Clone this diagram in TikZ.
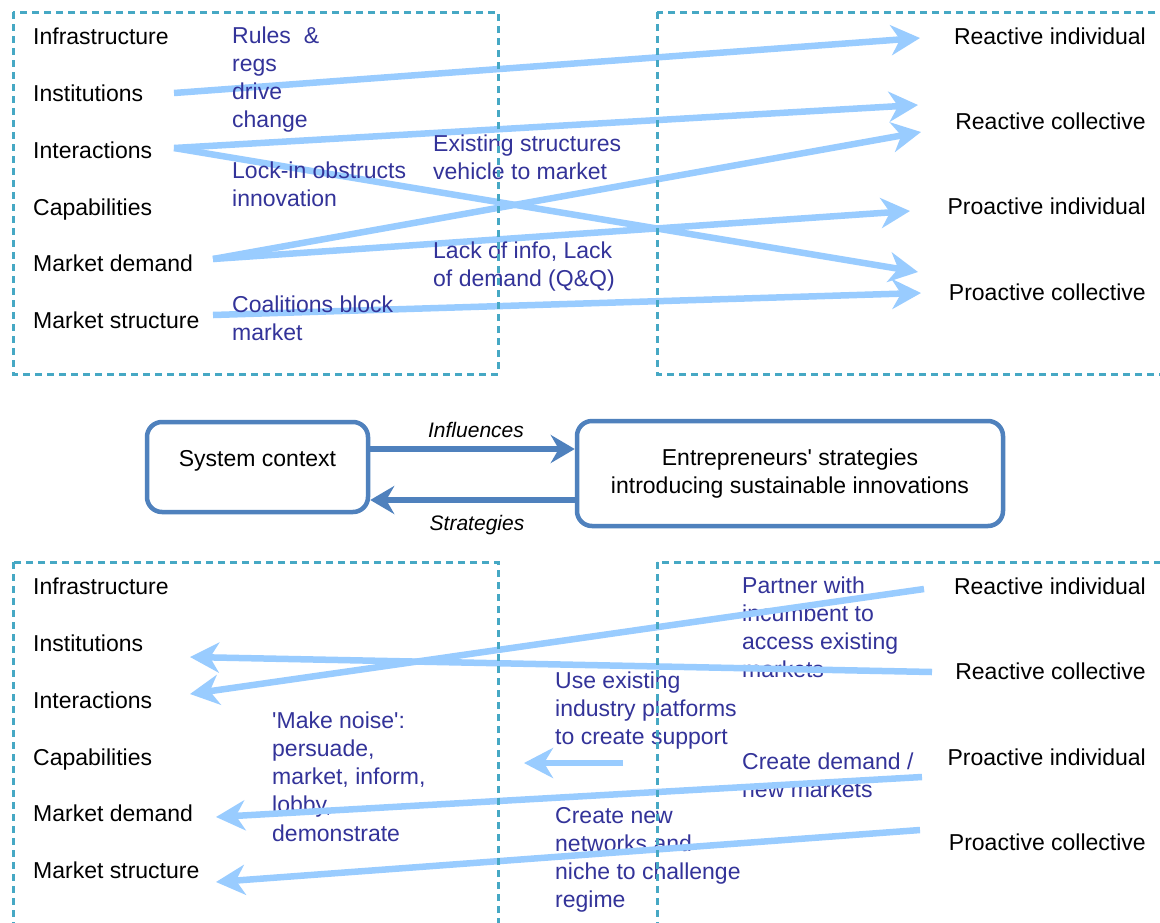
\documentclass[tikz,border=0pt]{standalone}
\usepackage{fontspec}
\setmainfont{Liberation Sans}
\usetikzlibrary{arrows.meta}
\definecolor{arrowblue}{RGB}{153,204,255}
\definecolor{dashteal}{RGB}{70,168,196}
\definecolor{boxblue}{RGB}{79,129,189}
\definecolor{notenavy}{RGB}{51,51,153}
\newcommand{\mlines}[1]{\begin{tabular}[t]{@{}l@{}}#1\end{tabular}}
\begin{document}
\begin{tikzpicture}[x=1pt,y=-1pt,
  lab/.style={font=\fontsize{23}{28.3}\selectfont, inner sep=0pt, text=black},
  note/.style={font=\fontsize{23}{28.3}\selectfont, inner sep=0pt, text=notenavy, anchor=base west},
  frame/.style={draw=dashteal, line width=3pt, dash pattern=on 7pt off 5pt},
  flow/.style={draw=arrowblue, line width=6.5pt, -{Stealth[length=29pt,width=30pt,inset=9pt]}},
  ctxbox/.style={draw=boxblue, line width=4.5pt, rounded corners=15pt, inner sep=0pt, fill=white},
  link/.style={draw=boxblue, line width=6pt, -{Stealth[length=24pt,width=28pt,inset=8pt]}},
  tag/.style={font=\itshape\fontsize{21}{25}\selectfont, inner sep=0pt, anchor=base}
]
\useasboundingbox (0,0) rectangle (1160,922);
\clip (0,0) rectangle (1160,922);
\fill[white] (0,0) rectangle (1160,922);

% ---------- top section: labels ----------
\node[lab, anchor=base west] (tInfra) at (33,44) {Infrastructure};
\node[lab, anchor=base west] (tInst)  at (33,101) {Institutions};
\node[lab, anchor=base west] (tInter) at (33,158) {Interactions};
\node[lab, anchor=base west] (tCap)   at (33,215) {Capabilities};
\node[lab, anchor=base west] (tDem)   at (33,271) {Market demand};
\node[lab, anchor=base west] (tStr)   at (33,328) {Market structure};

\node[lab, anchor=base east] (tRI) at (1146,44)  {Reactive individual};
\node[lab, anchor=base east] (tRC) at (1146,129) {Reactive collective};
\node[lab, anchor=base east] (tPI) at (1146,214) {Proactive individual};
\node[lab, anchor=base east] (tPC) at (1146,300) {Proactive collective};

% top arrow end points
\coordinate (sInst) at (174,93);
\coordinate (sInter) at (174,148);
\coordinate (sDem) at (213,259);
\coordinate (sStr) at (213,315);
\coordinate (eRI) at (920,38);
\coordinate (eRCa) at (918,105);
\coordinate (eRCb) at (921,132);
\coordinate (ePI) at (910,211);
\coordinate (ePCa) at (918,272);
\coordinate (ePCb) at (921,293);

\draw[flow] (sInst) -- (eRI);
\draw[flow] (sInter) -- (eRCa);
\draw[flow] (sInter) -- (ePCa);
\draw[flow] (sDem) -- (eRCb);
\draw[flow] (sDem) -- (ePI);
\draw[flow] (sStr) -- (ePCb);

\node[note] (nRules) at (232,43) {\mlines{Rules\ \ \&\\regs\\drive\\change}};
\node[note] (nLock)  at (232,178) {\mlines{Lock-in obstructs\\innovation}};
\node[note] (nExist) at (433,151) {\mlines{Existing structures\\vehicle to market}};
\node[note] (nLack)  at (433,258) {\mlines{Lack of info, Lack\\of demand (Q\&Q)}};
\node[note] (nCoal)  at (232,312) {\mlines{Coalitions block\\market}};

% ---------- middle ----------
\node[ctxbox, lab, minimum width=221pt, minimum height=90pt, text height=16pt, text depth=18pt] (sys) at (257.5,467) {System context};
\node[ctxbox, lab, minimum width=426pt, minimum height=105pt, align=center] (ent) at (790,473.5)
  {Entrepreneurs\textquotesingle{} strategies\\introducing sustainable innovations};
\draw[link] (sys.east |- {(0,449)}) -- (ent.west |- {(0,449)});
\draw[link] (ent.west |- {(0,500)}) -- (sys.east |- {(0,500)});
\node[tag] (infl) at (476,437) {Influences};
\node[tag] (strat) at (477,530) {Strategies};

% ---------- bottom section ----------
\node[lab, anchor=base west] (bInfra) at (33,594) {Infrastructure};
\node[lab, anchor=base west] (bInst)  at (33,651) {Institutions};
\node[lab, anchor=base west] (bInter) at (33,708) {Interactions};
\node[lab, anchor=base west] (bCap)   at (33,765) {Capabilities};
\node[lab, anchor=base west] (bDem)   at (33,821) {Market demand};
\node[lab, anchor=base west] (bStr)   at (33,878) {Market structure};

\node[lab, anchor=base east] (bRI) at (1146,594) {Reactive individual};
\node[lab, anchor=base east] (bRC) at (1146,679) {Reactive collective};
\node[lab, anchor=base east] (bPI) at (1146,765) {Proactive individual};
\node[lab, anchor=base east] (bPC) at (1146,850) {Proactive collective};

\node[note] (nPart)  at (742,593) {\mlines{Partner with\\incumbent to\\access existing\\markets}};
\node[note] (nUse)   at (555,688) {\mlines{Use existing\\industry platforms\\to create support}};
\node[note] (nNoise) at (272,728) {\mlines{\textquotesingle Make noise\textquotesingle:\\persuade,\\market, inform,\\lobby,\\demonstrate}};
\node[note] (nCdem)  at (742,769) {\mlines{Create demand /\\new markets}};
\node[note] (nCnew)  at (555,823) {\mlines{Create new\\networks and\\niche to challenge\\regime}};

\coordinate (fRI) at (924,589);
\coordinate (fRC) at (932,672);
\coordinate (fUse) at (623,763);
\coordinate (fPI) at (922,777);
\coordinate (fPC) at (920,830);
\coordinate (gInter) at (190,694);
\coordinate (gInst) at (190,657);
\coordinate (gUse) at (524,763);
\coordinate (gDem) at (216,817);
\coordinate (gStr) at (216,882);

\draw[flow] (fRI) -- (gInter);
\draw[flow] (fRC) -- (gInst);
\draw[flow] (fUse) -- (gUse);
\draw[flow] (fPI) -- (gDem);
\draw[flow] (fPC) -- (gStr);

% ---------- dashed frames ----------
\draw[frame] (13,12) rectangle (498,374);
\draw[frame] (657,12) rectangle (1180,374);
\draw[frame] (13,562) rectangle (498,945);
\draw[frame] (657,562) rectangle (1180,945);
\end{tikzpicture}
\end{document}
